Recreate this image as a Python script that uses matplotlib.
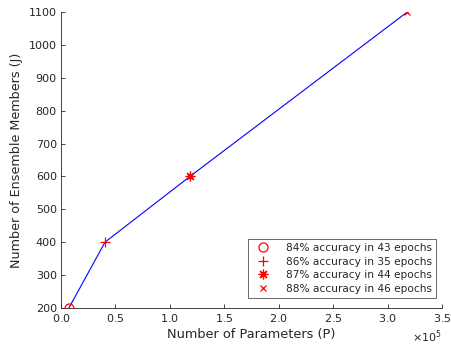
import matplotlib
matplotlib.use("Agg")
import matplotlib.pyplot as plt
from matplotlib.ticker import ScalarFormatter

# valores
params = [7300, 40400, 118500, 318000]
members = [200, 400, 600, 1100]
labels = [
    "84% accuracy in 43 epochs",
    "86% accuracy in 35 epochs",
    "87% accuracy in 44 epochs",
    "88% accuracy in 46 epochs",
]

x_ticks = [0, 50000, 100000, 150000, 200000, 250000, 300000, 350000]
y_ticks = [200, 300, 400, 500, 600, 700, 800, 900, 1000, 1100]

plt.rcParams["font.family"] = "DejaVu Sans"
axis_gray = "#262626"

# estilo MATLAB: o, +, * (asterisco de 8 braços), x
marker_styles = [
    dict(marker="o", markersize=6.5),
    dict(marker="+", markersize=7.5),
    dict(marker=(8, 2, 0), markersize=7),
    dict(marker="x", markersize=5),
]

fig = plt.figure(figsize=(4.52, 3.44), dpi=100)
ax = fig.add_axes([0.135, 0.105, 0.843, 0.86])

ax.plot(params, members, color="blue", lw=0.8, zorder=2)
for px, py, st, lab in zip(params, members, marker_styles, labels):
    ax.plot(px, py, linestyle="none", color="red", markerfacecolor="none",
            markeredgewidth=0.9, label=lab, zorder=3, **st)

ax.set_xlim(0, 350000)
ax.set_ylim(200, 1100)
ax.set_xticks(x_ticks)
ax.set_yticks(y_ticks)

fmt = ScalarFormatter(useMathText=True)
fmt.set_powerlimits((5, 5))
ax.xaxis.set_major_formatter(fmt)
ax.xaxis.get_offset_text().set_fontsize(8)
ax.xaxis.get_offset_text().set_color(axis_gray)

for side in ("top", "right"):
    ax.spines[side].set_visible(False)
for side in ("left", "bottom"):
    ax.spines[side].set_color(axis_gray)
    ax.spines[side].set_linewidth(0.6)

ax.tick_params(direction="in", length=3, width=0.6, colors=axis_gray,
               labelsize=8, pad=3)

ax.set_xlabel("Number of Parameters (P)", fontsize=9.3, color=axis_gray, labelpad=3)
ax.set_ylabel("Number of Ensemble Members (J)", fontsize=9.2, color=axis_gray, labelpad=4)

leg = ax.legend(loc="lower right", fontsize=7.6, frameon=True, fancybox=False,
                borderpad=0.4, handletextpad=1.2, labelspacing=0.33,
                handlelength=2.0, borderaxespad=0, bbox_to_anchor=(0.984, 0.034))
leg.get_frame().set_edgecolor(axis_gray)
leg.get_frame().set_linewidth(0.6)
for t in leg.get_texts():
    t.set_color(axis_gray)

fig.savefig("out.png", dpi=100)
